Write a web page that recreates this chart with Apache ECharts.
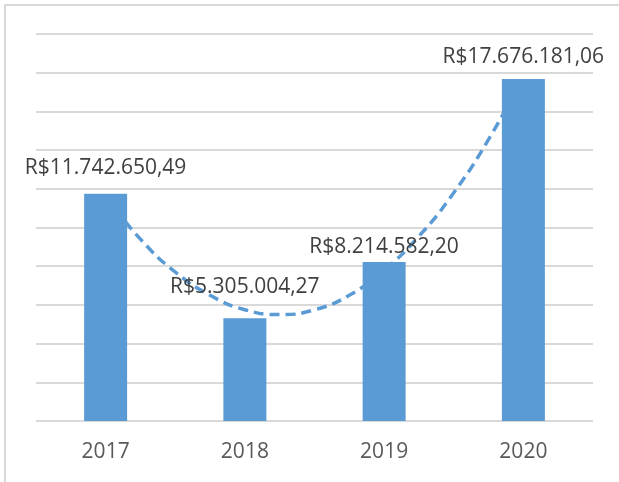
<!DOCTYPE html>
<html>
<head>
<meta charset="utf-8">
<title>Valores por ano</title>
<script src="https://cdn.jsdelivr.net/npm/echarts@6/dist/echarts.min.js"></script>
<style>
  html, body { margin: 0; padding: 0; background: #fff; }
  #chart { width: 619px; height: 482px; }
</style>
</head>
<body>
<div id="chart"></div>
<script>
// dados do grafico
var anos = ['2017', '2018', '2019', '2020']
var valores = [11742650.49, 5305004.27, 8214582.20, 17676181.06]

// linha de tendencia, x = posicao da categoria (1 = 2017)
var tendenciaX = [1, 1.25, 1.5, 1.75, 2, 2.25, 2.5, 2.75, 3, 3.25, 3.5, 3.75, 4]
var tendenciaY = [11.6, 9.4, 7.7, 6.5, 5.75, 5.5, 5.75, 6.5, 7.8, 9.55, 11.8, 14.55, 17.8]

// deslocamento vertical dos rotulos (px)
var labelOffsets = [-15, -21, -5, -11]

var azul = '#5B9BD5'
var cinza = '#D9D9D9'
var fonte = '"Open Sans", "Liberation Sans", sans-serif'

function formatReal (v) {
  var partes = v.toFixed(2).split('.')
  var inteiro = partes[0].replace(/\B(?=(\d{3})+(?!\d))/g, '.')
  return 'R$' + inteiro + ',' + partes[1]
}

var chart = echarts.init(document.getElementById('chart'), null, { renderer: 'canvas' })

var barData = valores.map(function (v, i) {
  return {
    value: v,
    label: { offset: [0, labelOffsets[i]] }
  }
})

var trendData = tendenciaX.map(function (x, i) {
  return [x, tendenciaY[i] * 1e6]
})

var option = {
  animation: false,
  backgroundColor: '#fff',
  grid: { left: 36, right: 26, top: 34, bottom: 61 },
  graphic: [{
    type: 'rect',
    shape: { x: 5, y: 5, width: 700, height: 600 },
    style: { fill: 'none', stroke: cinza, lineWidth: 2 },
    silent: true
  }],
  xAxis: [{
    type: 'category',
    data: anos,
    axisLine: { show: false },
    axisTick: { show: false },
    axisLabel: { color: '#595959', fontSize: 21, fontFamily: fonte, margin: 21 }
  }, {
    type: 'value',
    min: 0.5,
    max: 4.5,
    show: false
  }],
  yAxis: {
    type: 'value',
    min: 0,
    max: 20000000,
    interval: 2000000,
    axisLine: { show: false },
    axisTick: { show: false },
    axisLabel: { show: false },
    splitLine: { lineStyle: { color: cinza, width: 2 } }
  },
  series: [{
    name: 'Tendencia',
    type: 'line',
    xAxisIndex: 1,
    data: trendData,
    smooth: true,
    showSymbol: false,
    z: 1,
    lineStyle: { color: azul, width: 3.5, type: [10, 6] }
  }, {
    name: 'Valor',
    type: 'bar',
    data: barData,
    barWidth: 43,
    z: 2,
    itemStyle: { color: azul },
    label: {
      show: true,
      position: 'top',
      distance: 0,
      color: '#404040',
      fontSize: 21,
      fontFamily: fonte,
      formatter: function (p) { return formatReal(p.value) }
    }
  }]
}

chart.setOption(option)
</script>
</body>
</html>
